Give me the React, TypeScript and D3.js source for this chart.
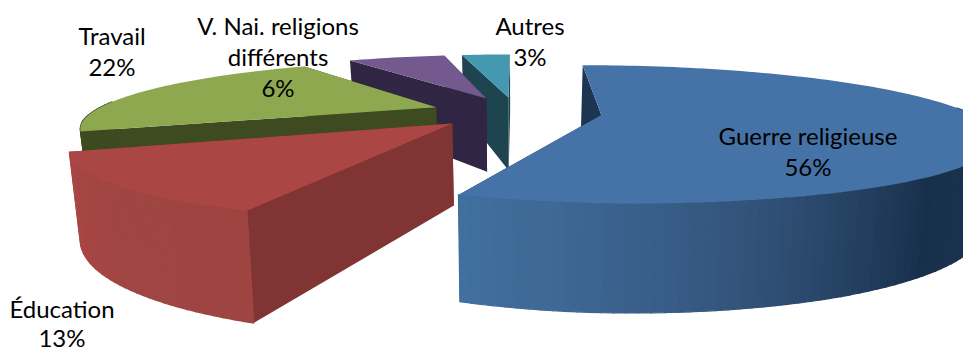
import React from "react";
import * as d3 from "d3";

const categories = ["Guerre religieuse", "Éducation", "Travail", "V. Nai. religions différents", "Autres"];
const values = [56, 13, 22, 6, 3];
const percentLabels = ["56%", "13%", "22%", "6%", "3%"];

const W = 963, H = 352;
const topColors = ["#4573a7", "#aa4643", "#8ea850", "#74598f", "#4498b0"];
const cutColors = ["#1c3652", "#803534", "#3e4a20", "#302542", "#1e4450"];
const rimStops: [number, string][][] = [
  [[0, "#1e3a57"], [100, "#1e3a57"], [140, "#182f4b"], [168, "#33557c"], [188, "#3e6794"], [202, "#41709f"]],
  [[201, "#9e4441"], [225, "#a04543"], [249, "#aa4744"]],
  [[248, "#3e4a20"], [328, "#3e4a20"]],
  [[327, "#302542"], [350, "#302542"]],
  [[349, "#1e4450"], [360, "#1e4450"]],
];
// label lines, in drawing layout
const labelLayout: { cx: number; y: number; step: number; lines: string[] }[] = [
  { cx: 808, y: 145, step: 31, lines: ["Guerre religieuse", percentLabels[0]] },
  { cx: 62, y: 318, step: 29, lines: ["Éducation", percentLabels[1]] },
  { cx: 112, y: 45, step: 31, lines: ["Travail", percentLabels[2]] },
  { cx: 278, y: 35, step: 31, lines: ["V. Nai. religions", "différents", percentLabels[3]] },
  { cx: 530, y: 35, step: 31, lines: ["Autres", percentLabels[4]] },
];

// perspective projection of the exploded pie
const ox = 516, oy = 112, A = 343, B = 62, K = 0.276, DEPTH = 78, TAPER = 0.025, EXPLODE = 0.25;
const project = (X: number, Y: number, Z: number): [number, number] => {
  const w = 1 + K * Y;
  const fx = X + 0.07 * Math.max(0, X - 0.25);
  return [ox + (A * fx / w) * (1 - TAPER * Z), oy - (B * Y) / w + (DEPTH * Z) / w];
};

const pieGen = d3.pie<number>().sort(null).startAngle(0).endAngle(2 * Math.PI);
const arcs = pieGen(values);
const line = d3.line();

type Seg = { d: string; fill: string };
function buildSlice(i: number) {
  const a = arcs[i];
  const m = (a.startAngle + a.endAngle) / 2;
  const ax = EXPLODE * Math.sin(m), ay = EXPLODE * Math.cos(m);
  const rim = (t: number, z: number) => project(ax + Math.sin(t), ay + Math.cos(t), z);
  const apex = (z: number) => project(ax, ay, z);
  const n = Math.max(6, Math.ceil(((a.endAngle - a.startAngle) * 180) / Math.PI / 1.5));
  const ts = d3.range(n + 1).map((k) => a.startAngle + ((a.endAngle - a.startAngle) * k) / n);
  const top = line([apex(0), ...ts.map((t) => rim(t, 0))]) + "Z";
  const wallAt = (t: number) => line([apex(0), rim(t, 0), rim(t, 1), apex(1)]) + "Z";
  const color = d3
    .scaleLinear<string>()
    .domain(rimStops[i].map((s) => s[0]))
    .range(rimStops[i].map((s) => s[1]))
    .interpolate(d3.interpolateRgb);
  const rimSegs: Seg[] = d3
    .range(n)
    .filter((k) => Math.cos((ts[k] + ts[k + 1]) / 2) < 0.1)
    .map((k) => ({
      d: line([rim(ts[k], 0), rim(ts[k + 1], 0), rim(ts[k + 1], 1), rim(ts[k], 1)]) + "Z",
      fill: color(((ts[k] + ts[k + 1]) / 2) * (180 / Math.PI)),
    }));
  return { top, endWall: wallAt(a.endAngle), startWall: wallAt(a.startAngle), rimSegs };
}

// back to front
const drawOrder = [4, 3, 2, 1, 0];

export default function App() {
  return (
    <svg
      width={W}
      height={H}
      viewBox={`0 0 ${W} ${H}`}
      style={{ position: "absolute", left: 0, top: 0, display: "block", background: "#fff" }}
    >
      {drawOrder.map((i) => {
        const s = buildSlice(i);
        return (
          <g key={categories[i]}>
            <path d={s.endWall} fill={cutColors[i]} />
            <path d={s.startWall} fill={cutColors[i]} />
            {s.rimSegs.map((r, k) => (
              <path key={k} d={r.d} fill={r.fill} stroke={r.fill} strokeWidth={1.2} />
            ))}
            <path d={s.top} fill={topColors[i]} />
          </g>
        );
      })}
      {labelLayout.map((l, i) => (
        <text key={i} textAnchor="middle" fontFamily="Lato, 'Open Sans', sans-serif" fontSize={24} fill="#000">
          {l.lines.map((t, j) => (
            <tspan key={j} x={l.cx} y={l.y + j * l.step}>
              {t}
            </tspan>
          ))}
        </text>
      ))}
    </svg>
  );
}
